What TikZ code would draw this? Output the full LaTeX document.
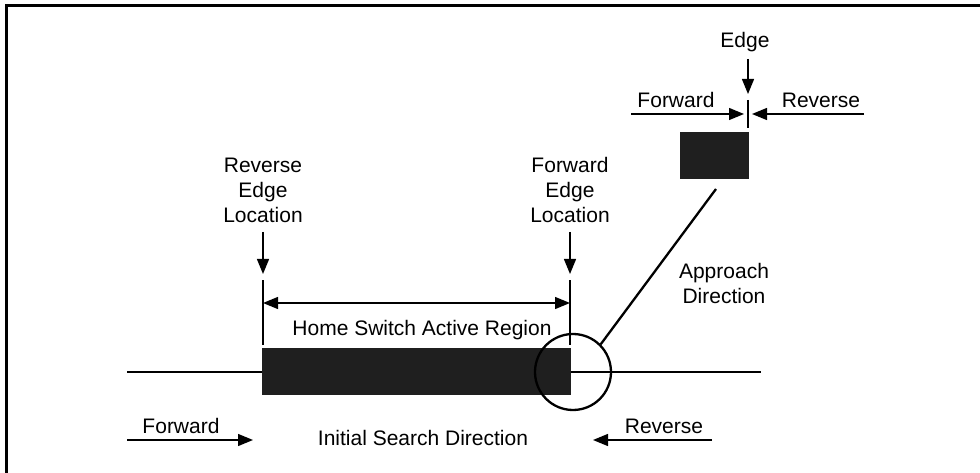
\documentclass[tikz,border=0pt]{standalone}
\usepackage{fontspec}
\setmainfont{Liberation Sans}
\usetikzlibrary{arrows.meta}
\begin{document}
\begin{tikzpicture}[x=1pt,y=-1pt,
	lbl/.style={inner sep=0pt,align=center,font=\fontsize{21}{25}\selectfont},
	thin/.style={line width=1.3pt},
	arr/.style={thin,-{Triangle[length=15pt,width=12pt]}},
	dim/.style={thin,{Triangle[length=15pt,width=12pt]}-{Triangle[length=15pt,width=12pt]}},
	blk/.style={draw=none,fill=black!88,inner sep=0pt}]
	\useasboundingbox (0,0) rectangle (980,473);
	\draw[line width=3pt] (6,473) -- (6,6) -- (980,6);
	\begin{scope}[every node/.style={lbl}]
		% travel line, switch and edge
		\path (127,372) coordinate (l0) (761,372) coordinate (l1);
		\draw[thin] (l0) -- (l1);
		\path (416.5,371.5) node[blk,minimum width=309pt,minimum height=47pt] (bar) {};
		\path (573,372) node[circle,draw,line width=2.3pt,minimum size=76pt] (ring) {};
		\path (714.5,155.5) node[blk,minimum width=69pt,minimum height=47pt] (swbox) {};
		\path (716,189) coordinate (appr);
		\draw[line width=2.3pt] (ring.45) -- (appr);
		\path (724,283) node (apprtxt) {Approach\\Direction};
		% edge locations
		\path (263,190) node (revloc) {Reverse\\Edge\\Location};
		\path (570,190) node (fwdloc) {Forward\\Edge\\Location};
		\path (263,232) coordinate (ra0) (263,274) coordinate (ra1) (263,280) coordinate (rt0) (263,345) coordinate (rt1);
		\path (570,232) coordinate (fa0) (570,274) coordinate (fa1) (570,280) coordinate (ft0) (570,345) coordinate (ft1);
		\draw[arr] (ra0) -- (ra1);
		\draw[arr] (fa0) -- (fa1);
		\draw[thin] (rt0) -- (rt1);
		\draw[thin] (ft0) -- (ft1);
		\path (263,303) coordinate (d0) (570,303) coordinate (d1);
		\draw[dim] (d0) -- (d1);
		\path (422,330) node (region) {Home Switch Active Region};
		% edge detail, top right
		\path (745,42) node (edge) {Edge};
		\path (748,59) coordinate (e0) (748,94) coordinate (e1) (748,100) coordinate (et0) (748,128) coordinate (et1);
		\draw[arr] (e0) -- (e1);
		\draw[thin] (et0) -- (et1);
		\path (676,100) node (tfwd) {Forward};
		\path (821,100) node (trev) {Reverse};
		\path (631,114) coordinate (tf0) (744,114) coordinate (tf1) (864,114) coordinate (tr0) (752,114) coordinate (tr1);
		\draw[arr] (tf0) -- (tf1);
		\draw[arr] (tr0) -- (tr1);
		% initial search direction
		\path (181,426) node (bfwd) {Forward};
		\path (664,426) node (brev) {Reverse};
		\path (423,438) node (search) {Initial Search Direction};
		\path (127,440) coordinate (bf0) (253,440) coordinate (bf1) (712,440) coordinate (br0) (593,440) coordinate (br1);
		\draw[arr] (bf0) -- (bf1);
		\draw[arr] (br0) -- (br1);
	\end{scope}
\end{tikzpicture}
\end{document}
